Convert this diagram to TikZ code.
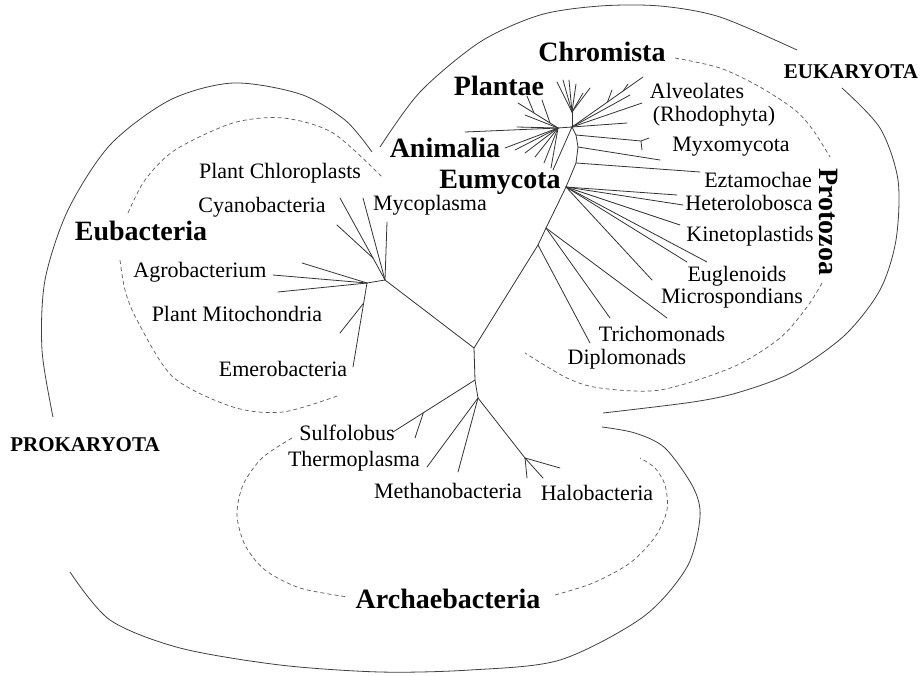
\documentclass[tikz,border=0pt]{standalone}
\usepackage{fontspec}
\setmainfont{Liberation Serif}
\usetikzlibrary{calc}

\tikzset{
  branch/.style={line width=0.8pt, black!80, line cap=round},
  ring/.style={line width=0.8pt, black!75},
  loop/.style={line width=0.7pt, black!65, dash pattern=on 4pt off 3pt},
  taxon/.style={inner sep=0pt, font=\fontsize{22}{24}\selectfont},
  superk/.style={inner sep=0pt, font=\fontsize{28}{30}\selectfont\bfseries},
  realm/.style={inner sep=0pt, font=\fontsize{21}{23}\selectfont\bfseries}
}

\begin{document}
\begin{tikzpicture}[x=1pt,y=-1pt]
  \useasboundingbox (0,0) rectangle (924,675);
  % eubacteria
  \coordinate (root) at (474,348);
  \coordinate (eub) at (385,280);
  \coordinate (cya) at (373,258);
  \coordinate (agr) at (367,283);
  \coordinate (emb) at (353,367);
  \coordinate (mit) at ($(agr)!0.24!(emb)$);
  \coordinate (pmt) at (340,333);
  \draw[branch] (root) -- (eub) -- (agr) -- (emb);
  \draw[branch] (eub) -- (cya);
  \draw[branch] (mit) -- (pmt);
  \foreach \x/\y [count=\i] in {387/222,363/198}
    {\coordinate (eb\i) at (\x,\y); \draw[branch] (eub) -- (eb\i);}
  \foreach \x/\y [count=\i] in {340/198,337/225}
    {\coordinate (cy\i) at (\x,\y); \draw[branch] (cya) -- (cy\i);}
  \foreach \x/\y [count=\i] in {273/275,302/263,278/292}
    {\coordinate (ag\i) at (\x,\y); \draw[branch] (agr) -- (ag\i);}
  % archaebacteria
  \coordinate (arc) at (475,380);
  \coordinate (arm) at (478,398);
  \coordinate (sul) at (393,432);
  \coordinate (sux) at ($(arc)!0.63!(sul)$);
  \coordinate (sut) at (415,438);
  \coordinate (hal) at (525,458);
  \draw[branch] (root) -- (arc) -- (arm) -- (hal);
  \draw[branch] (arc) -- (sul);
  \draw[branch] (sux) -- (sut);
  \foreach \x/\y [count=\i] in {427/467,458/472}
    {\coordinate (am\i) at (\x,\y); \draw[branch] (arm) -- (am\i);}
  \foreach \x/\y [count=\i] in {560/468,543/478,527/478}
    {\coordinate (ha\i) at (\x,\y); \draw[branch] (hal) -- (ha\i);}
  % eukaryota
  \coordinate (ek1) at (538,245);
  \coordinate (ek2) at (546,228);
  \coordinate (ek3) at (566,187);
  \coordinate (ek4) at (576,163);
  \coordinate (ek5) at (578,147);
  \coordinate (ek6) at (576,135);
  \coordinate (hub) at (572,127);
  \draw[branch] (root) -- (ek1) -- (ek2) -- (ek3) -- (ek4) -- (ek5) -- (ek6) -- (hub);
  \coordinate (dip) at (590,343);
  \draw[branch] (ek1) -- (dip);
  \foreach \x/\y [count=\i] in {610/318,667/318}
    {\coordinate (tr\i) at (\x,\y); \draw[branch] (ek2) -- (tr\i);}
  \foreach \x/\y [count=\i] in {652/280,687/262,707/262,680/225,683/205,677/195}
    {\coordinate (pz\i) at (\x,\y); \draw[branch] (ek3) -- (pz\i);}
  \coordinate (ezt) at (700,172);
  \coordinate (pz7) at (660,160);
  \coordinate (myx) at (641,141);
  \draw[branch] (ek4) -- (ezt);
  \draw[branch] (ek5) -- (pz7);
  \draw[branch] (ek6) -- (myx) -- (649,138);
  \draw[branch] (myx) -- (642,150);
  \coordinate (eum) at (553,170);
  \coordinate (ani) at (558,128);
  \coordinate (pla) at (518,103);
  \coordinate (plf) at (572,112);
  \coordinate (alv) at (643,77);
  \draw[branch] (hub) -- (eum);
  \draw[branch] (hub) -- (ani) -- (465,132);
  \draw[branch] (ani) -- (pla);
  \draw[branch] ($(ani)!0.2!(pla)$) -- (542,100);
  \draw[branch] ($(ani)!0.6!(pla)$) -- (527,96);
  \foreach \x/\y [count=\i] in {525/115,517/127,505/148,515/150,525/153,535/157,544/163,551/168}
    {\coordinate (an\i) at (\x,\y); \draw[branch] (ani) -- (an\i);}
  \draw[branch] (hub) -- (plf);
  \foreach \x/\y [count=\i] in {557/82,563/80,569/80,576/84,590/88,583/93}
    {\coordinate (pl\i) at (\x,\y); \draw[branch] (plf) -- (pl\i);}
  \draw[branch] (hub) -- (alv);
  \draw[branch] ($(hub)!0.5!(alv)$) -- (612,90);
  \draw[branch] ($(hub)!0.72!(alv)$) -- (628,84);
  \foreach \x/\y [count=\i] in {630/95,642/103,627/123}
    {\coordinate (al\i) at (\x,\y); \draw[branch] (hub) -- (al\i);}
  % solid and dashed outlines
  \draw[ring] plot[smooth] coordinates {(380,147) (420,92) (480,42) (540,15) (600,6) (660,6) (720,17) (797,50)};
  \draw[ring] plot[smooth] coordinates {(842,88) (880,128) (898,180) (896,240) (880,290) (845,335) (793,372) (740,392) (693,402) (603,413)};
  \draw[ring] plot[smooth] coordinates {(53,417) (42,350) (45,280) (68,210) (110,145) (170,100) (233,83) (300,94) (345,120) (372,152)};
  \draw[ring] plot[smooth] coordinates {(70,572) (110,620) (180,648) (280,665) (380,672) (470,670) (560,660) (643,617) (687,567) (700,517) (693,487) (665,448) (635,433) (602,427)};
  \draw[loop] plot[smooth] coordinates {(128,213) (145,180) (175,150) (233,123) (283,118) (333,133) (383,178)};
  \draw[loop] plot[smooth] coordinates {(120,260) (125,290) (137,320) (173,377) (233,407) (283,412) (340,395)};
  \draw[loop] plot[smooth] coordinates {(675,58) (720,68) (760,87) (795,110) (813,130) (830,157)};
  \draw[loop] plot[smooth] coordinates {(822,283) (807,307) (780,338) (733,367) (660,390) (600,388) (567,378) (525,353)};
  \draw[loop] plot[smooth] coordinates {(292,438) (262,458) (243,485) (237,515) (245,545) (265,570) (300,588) (348,597)};
  \draw[loop] plot[smooth] coordinates {(555,595) (593,583) (630,563) (655,537) (667,510) (665,485) (655,468) (640,458)};
  % labels
  \node[superk] (chromista) at (602,52) {Chromista};
  \node[superk] (plantae) at (499,86) {Plantae};
  \node[superk] (animalia) at (445,148) {Animalia};
  \node[superk] (eumycota) at (500,182) {Eumycota};
  \node[superk, rotate=-90] (protozoa) at (829,222) {Protozoa};
  \node[superk] (eubacteria) at (141,231) {Eubacteria};
  \node[superk] (archaebacteria) at (448,599) {Archaebacteria};
  \node[realm] (eukaryota) at (851,72) {EUKARYOTA};
  \node[realm] (prokaryota) at (85,445) {PROKARYOTA};
  \node[taxon] (alveolates) at (697,91) {Alveolates};
  \node[taxon] (rhodophyta) at (714,116) {(Rhodophyta)};
  \node[taxon] (myxomycota) at (731,147) {Myxomycota};
  \node[taxon] (eztamochae) at (758,180) {Eztamochae};
  \node[taxon] (heterolobosca) at (749,203) {Heterolobosca};
  \node[taxon] (kinetoplastids) at (750,236) {Kinetoplastids};
  \node[taxon] (euglenoids) at (737,276) {Euglenoids};
  \node[taxon] (microspondians) at (732,298) {Microspondians};
  \node[taxon] (trichomonads) at (662,334) {Trichomonads};
  \node[taxon] (diplomonads) at (627,359) {Diplomonads};
  \node[taxon] (chloroplasts) at (280,173) {Plant Chloroplasts};
  \node[taxon] (cyanobacteria) at (262,207) {Cyanobacteria};
  \node[taxon] (mycoplasma) at (430,205) {Mycoplasma};
  \node[taxon] (agrobacterium) at (200,272) {Agrobacterium};
  \node[taxon] (mitochondria) at (237,314) {Plant Mitochondria};
  \node[taxon] (emerobacteria) at (283,369) {Emerobacteria};
  \node[taxon] (sulfolobus) at (347,433) {Sulfolobus};
  \node[taxon] (thermoplasma) at (354,461) {Thermoplasma};
  \node[taxon] (methanobacteria) at (448,491) {Methanobacteria};
  \node[taxon] (halobacteria) at (597,493) {Halobacteria};
\end{tikzpicture}
\end{document}
